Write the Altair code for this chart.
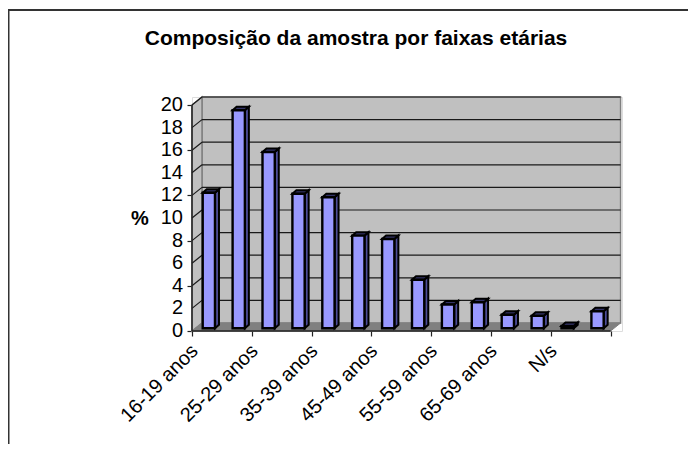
import altair as alt
import pandas as pd

# ---- data ----
categories = ["16-19 anos", "20-24 anos", "25-29 anos", "30-34 anos", "35-39 anos", "40-44 anos",
              "45-49 anos", "50-54 anos", "55-59 anos", "60-64 anos", "65-69 anos", "70-74 anos",
              "N/s", "Outros"]
values = [12.0, 19.3, 15.6, 11.9, 11.6, 8.2, 7.9, 4.3, 2.1, 2.3, 1.2, 1.1, 0.2, 1.5]
shown_labels = ["16-19 anos", "25-29 anos", "35-39 anos", "45-49 anos", "55-59 anos", "65-69 anos", "N/s"]
y_ticks = list(range(0, 21, 2))

# ---- depth of the pseudo-3D box, in axis units ----
N = len(categories)
WX, WY = 0.334, 0.708      # wall depth
BL, BW = 0.358, 0.41       # bar left inset, bar width
DX, DY = 0.134, 0.31       # bar depth
BASE = 0.24                # bar base above the front edge

W, H = 430, 234
PAD_L, PAD_T, PAD_R, PAD_B = 184, 89, 66, 113
X = alt.Scale(domain=[0, W / 29.9], nice=False, zero=False)
Y = alt.Scale(domain=[0, H / 11.3], nice=False, zero=False)

def xe(f="x", **k):
    return alt.X(f"{f}:Q", scale=X, title=None, **k)

def ye(f="y", **k):
    return alt.Y(f"{f}:Q", scale=Y, title=None, **k)

# back wall
wall = alt.Chart(pd.DataFrame({"x": [WX], "x2": [N + WX], "y": [WY], "y2": [20 + WY]})).mark_rect(
    color="#c0c0c0", stroke="#808080", strokeWidth=1.5
).encode(x=xe(), x2="x2:Q", y=ye(), y2="y2:Q")

# left wall
lw = pd.DataFrame({"x": [0, WX], "y": [0, WY], "y2": [20, 20 + WY]})
left = alt.Chart(lw).mark_area(color="#c0c0c0", stroke="#808080", strokeWidth=1.5).encode(
    x=xe(), y=ye(), y2="y2:Q")

# floor
fl = pd.DataFrame({"x": [0, WX, N, N + WX], "y": [0, 0, 0, WY], "y2": [0, WY, WY, WY]})
floor = alt.Chart(fl).mark_area(color="#808080", stroke="#808080").encode(x=xe(), y=ye(), y2="y2:Q")

# gridlines on back and left walls
grid_rows = [{"x": WX, "x2": N + WX, "y": t + WY, "y2": t + WY} for t in y_ticks[1:]]
grid_rows += [{"x": 0, "x2": WX, "y": t, "y2": t + WY} for t in y_ticks[1:]]
grid = alt.Chart(pd.DataFrame(grid_rows)).mark_rule(color="#1a1a1a", strokeWidth=1.2).encode(
    x=xe(), x2="x2:Q", y=ye(), y2="y2:Q")

# bars
df = pd.DataFrame({"i": range(N), "v": values})
df["xl"] = df.i + BL
df["xr"] = df.xl + BW
df["y0"] = BASE
df["yt"] = BASE + df.v

front = alt.Chart(df).mark_rect(color="#9999ff", stroke="black", strokeWidth=2.4).encode(
    x=xe("xl"), x2="xr:Q", y=ye("y0"), y2="yt:Q")

side_rows, top_rows = [], []
for i, v in enumerate(values):
    xl, xr, yt = i + BL, i + BL + BW, BASE + v
    side_rows += [{"i": i, "x": xr, "y": BASE, "y2": yt},
                  {"i": i, "x": xr + DX, "y": BASE + DY, "y2": yt + DY}]
    top_rows += [{"i": i, "x": xl, "y": yt, "y2": yt},
                 {"i": i, "x": xl + DX, "y": yt, "y2": yt + DY},
                 {"i": i, "x": xr, "y": yt, "y2": yt + DY},
                 {"i": i, "x": xr + DX, "y": yt + DY, "y2": yt + DY}]
side = alt.Chart(pd.DataFrame(side_rows)).mark_area(color="#4d4d99", stroke="black", strokeWidth=2).encode(
    x=xe(), y=ye(), y2="y2:Q", detail="i:N")
top = alt.Chart(pd.DataFrame(top_rows)).mark_area(color="#333366", stroke="black", strokeWidth=2).encode(
    x=xe(), y=ye(), y2="y2:Q", detail="i:N")

# real axes (ticks); the y tick labels are a text layer on the same scale
axes = alt.Chart(pd.DataFrame({"x": [0], "y": [0]})).mark_point(opacity=0).encode(
    x=alt.X("x:Q", scale=X, title=None, axis=alt.Axis(
        values=list(range(N + 1)), labels=False, ticks=True, tickSize=5, tickColor="#222222",
        tickWidth=1.2, domain=False, grid=False)),
    y=alt.Y("y:Q", scale=Y, title=None, axis=alt.Axis(
        values=y_ticks, labels=False, tickSize=5, tickColor="#222222", tickWidth=1.2,
        domain=False, grid=False)),
)

y_labels = alt.Chart(pd.DataFrame({"y": y_ticks})).mark_text(
    font="Liberation Sans", fontSize=20, color="black", align="right", baseline="middle"
).encode(x=alt.value(-9), y=ye(), text="y:Q")

# axis lines
axl = pd.DataFrame({"x": [0, 0], "x2": [0, N], "y": [0, 0], "y2": [20, 0]})
axis_lines = alt.Chart(axl).mark_rule(color="#222222", strokeWidth=1.5).encode(
    x=xe(), x2="x2:Q", y=ye(), y2="y2:Q")

# y axis title
pct = alt.Chart(pd.DataFrame({"t": ["%"]})).mark_text(
    font="Liberation Sans", fontSize=20, fontWeight="bold", color="black", align="center", baseline="middle"
).encode(x=alt.value(-52), y=alt.value(122), text="t:N")

# category labels
lab = pd.DataFrame({"x": [categories.index(c) + 0.5 for c in shown_labels], "t": shown_labels})
labels = alt.Chart(lab).mark_text(
    angle=315, align="right", baseline="middle", font="Liberation Sans", fontSize=20, color="black",
    dx=-5, dy=-12
).encode(x=xe(), y=alt.value(H + 22), text="t:N")

# outer frame
frame_data = pd.DataFrame({"a": [0]})
frame_top = alt.Chart(frame_data).mark_rule(color="#333333", strokeWidth=2).encode(
    x=alt.value(-PAD_L), x2=alt.value(W + PAD_R), y=alt.value(-87))
frame_left = alt.Chart(frame_data).mark_rule(color="#333333", strokeWidth=2).encode(
    x=alt.value(-PAD_L + 0.5), y=alt.value(-88), y2=alt.value(H + PAD_B))

chart = alt.layer(
    axes, frame_top, frame_left, wall, left, floor, grid, axis_lines, side, top, front, y_labels, pct, labels
).resolve_scale(x="shared", y="shared").properties(
    width=W, height=H,
    title=alt.TitleParams(
        "Composição da amostra por faixas etárias", font="Liberation Sans", fontSize=21,
        fontWeight="bold", color="black", anchor="middle", dx=-51, offset=-41),
    autosize=alt.AutoSizeParams(type="none"),
    padding={"left": PAD_L, "top": PAD_T, "right": PAD_R, "bottom": PAD_B},
).configure_view(stroke=None).configure(background="white")

chart.save("out.html", embed_options={"renderer": "svg", "actions": False})
